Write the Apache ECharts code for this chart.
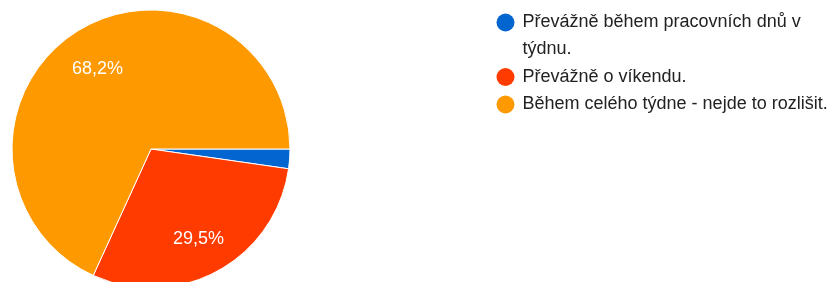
<!DOCTYPE html>
<html>
<head>
<meta charset="utf-8">
<script src="https://cdn.jsdelivr.net/npm/echarts@6/dist/echarts.min.js"></script>
<style>
  html, body { margin: 0; padding: 0; background: #fff; }
  #chart { width: 840px; height: 282px; }
</style>
</head>
<body>
<div id="chart"></div>
<script>
// odpovedi (pocty)
var categories = ['Převážně během pracovních dnů v týdnu.', 'Převážně o víkendu.', 'Během celého týdne - nejde to rozlišit.'];
var counts = [1, 13, 30];
var colors = ['#0365CF', '#FF3B00', '#FF9900'];

var total = 0;
for (var k = 0; k < counts.length; k++) total += counts[k];

var chart = echarts.init(document.getElementById('chart'));

var pieData = [];
for (var i = 0; i < categories.length; i++) {
    pieData.push({ name: categories[i], value: counts[i] });
}

var option = {
    color: colors,
    animation: false,
    legend: {
        orient: 'vertical',
        left: 496.5,
        top: -18,
        padding: 0,
        itemGap: 0.5,
        icon: 'circle',
        itemWidth: 24,
        itemHeight: 18,
        itemStyle: { borderWidth: 0 },
        textStyle: {
            fontFamily: 'Liberation Sans, Arial, sans-serif',
            fontSize: 18,
            color: '#222',
            lineHeight: 27
        },
        // prvni polozka je na dva radky, prazdny radek nahore drzi kolecko u prvniho radku
        formatter: function (name) {
            if (name === categories[0]) return '\nPřevážně během pracovních dnů v\ntýdnu.';
            return name;
        },
        data: categories
    },
    series: [
        {
            name: 'pie',
            type: 'pie',
            center: [151, 149],
            radius: 139,
            startAngle: 0,
            clockwise: true,
            label: { show: false },
            labelLine: { show: false },
            itemStyle: { borderColor: '#fff', borderWidth: 1 },
            emphasis: { disabled: true },
            data: pieData
        },
        {
            // jen popisky
            name: 'labels',
            type: 'pie',
            center: [151, 149],
            radius: [53, 139],
            startAngle: 0,
            clockwise: true,
            silent: true,
            legendHoverLink: false,
            itemStyle: { color: 'transparent' },
            emphasis: { disabled: true },
            label: {
                show: true,
                position: 'inside',
                offset: [0, 3],
                color: '#fff',
                fontFamily: 'Liberation Sans, Arial, sans-serif',
                fontSize: 18,
                formatter: function (p) {
                    var pct = p.value / total * 100;
                    if (pct < 5) return '';
                    return pct.toFixed(1).replace('.', ',') + '%';
                }
            },
            labelLine: { show: false },
            data: pieData
        }
    ]
};
chart.setOption(option);
</script>
</body>
</html>
